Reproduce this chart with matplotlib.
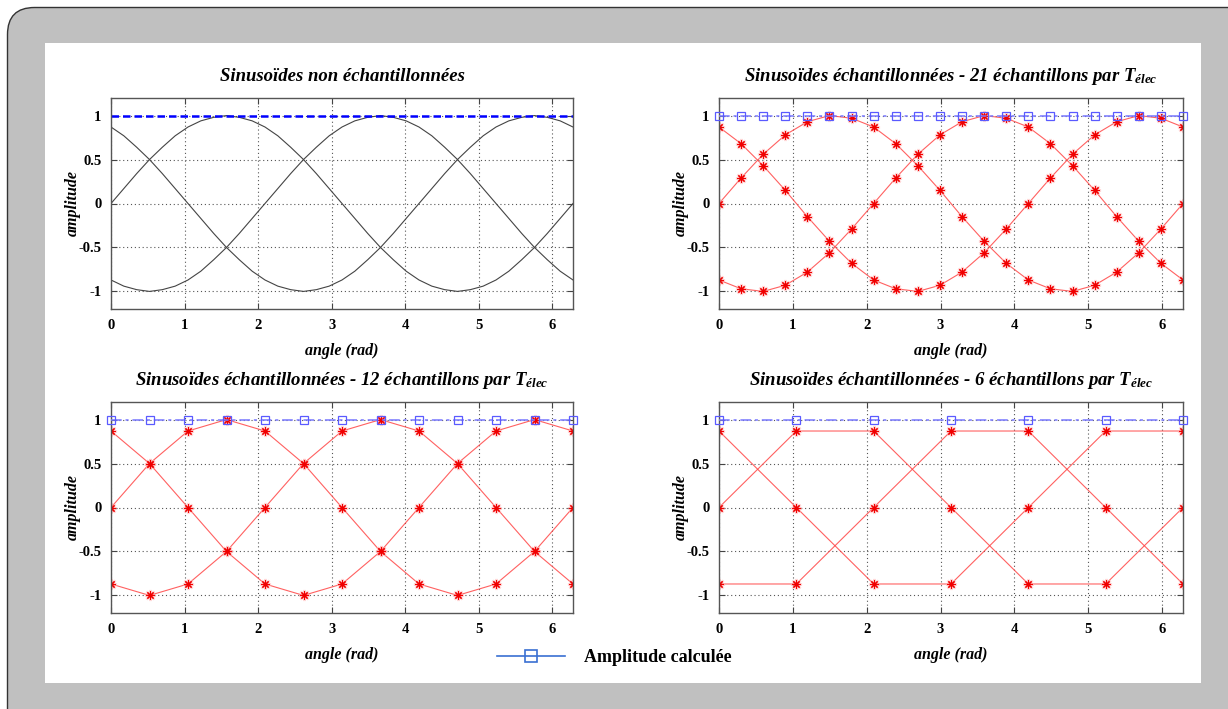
import numpy as np
import matplotlib
matplotlib.use("Agg")
import matplotlib.pyplot as plt
from matplotlib.patches import FancyBboxPatch, Rectangle
from matplotlib.lines import Line2D

# ---------------- data ----------------
# continuous sinusoids (10 degree steps over one electrical period 0..2pi)
fine_phase_a = [0, 0.17, 0.34, 0.5, 0.64, 0.77, 0.87, 0.94, 0.98, 1, 0.98, 0.94, 0.87, 0.77, 0.64,
                0.5, 0.34, 0.17, 0, -0.17, -0.34, -0.5, -0.64, -0.77, -0.87, -0.94, -0.98, -1,
                -0.98, -0.94, -0.87, -0.77, -0.64, -0.5, -0.34, -0.17, 0]
fine_phase_b = [-0.87, -0.94, -0.98, -1, -0.98, -0.94, -0.87, -0.77, -0.64, -0.5, -0.34, -0.17, 0,
                0.17, 0.34, 0.5, 0.64, 0.77, 0.87, 0.94, 0.98, 1, 0.98, 0.94, 0.87, 0.77, 0.64,
                0.5, 0.34, 0.17, 0, -0.17, -0.34, -0.5, -0.64, -0.77, -0.87]
fine_phase_c = [0.87, 0.77, 0.64, 0.5, 0.34, 0.17, 0, -0.17, -0.34, -0.5, -0.64, -0.77, -0.87,
                -0.94, -0.98, -1, -0.98, -0.94, -0.87, -0.77, -0.64, -0.5, -0.34, -0.17, 0, 0.17,
                0.34, 0.5, 0.64, 0.77, 0.87, 0.94, 0.98, 1, 0.98, 0.94, 0.87]
fine_amplitude = [1.0] * 37

# 21 samples per period
s21_a = [0, 0.29, 0.56, 0.78, 0.93, 1.0, 0.97, 0.87, 0.68, 0.43, 0.15, -0.15, -0.43, -0.68,
         -0.87, -0.97, -1.0, -0.93, -0.78, -0.56, -0.29, 0]
s21_b = [-0.87, -0.97, -1.0, -0.93, -0.78, -0.56, -0.29, 0, 0.29, 0.56, 0.78, 0.93, 1.0, 0.97,
         0.87, 0.68, 0.43, 0.15, -0.15, -0.43, -0.68, -0.87]
s21_c = [0.87, 0.68, 0.43, 0.15, -0.15, -0.43, -0.68, -0.87, -0.97, -1.0, -0.93, -0.78, -0.56,
         -0.29, 0, 0.29, 0.56, 0.78, 0.93, 1.0, 0.97, 0.87]
s21_amp = [1.0] * 22

# 12 samples per period
s12_a = [0, 0.5, 0.87, 1, 0.87, 0.5, 0, -0.5, -0.87, -1, -0.87, -0.5, 0]
s12_b = [-0.87, -1, -0.87, -0.5, 0, 0.5, 0.87, 1, 0.87, 0.5, 0, -0.5, -0.87]
s12_c = [0.87, 0.5, 0, -0.5, -0.87, -1, -0.87, -0.5, 0, 0.5, 0.87, 1, 0.87]
s12_amp = [1.0] * 13

# 6 samples per period
s6_a = [0, 0.87, 0.87, 0, -0.87, -0.87, 0]
s6_b = [-0.87, -0.87, 0, 0.87, 0.87, 0, -0.87]
s6_c = [0.87, 0, -0.87, -0.87, 0, 0.87, 0.87]
s6_amp = [1.0] * 7

titles = ["Sinusoïdes non échantillonnées",
          "Sinusoïdes échantillonnées - 21 échantillons par $T_{\\mathit{élec}}$",
          "Sinusoïdes échantillonnées - 12 échantillons par $T_{\\mathit{élec}}$",
          "Sinusoïdes échantillonnées - 6 échantillons par $T_{\\mathit{élec}}$"]
yticks = [-1, -0.5, 0, 0.5, 1]
yticklabels = ["-1", "-0.5", "0", "0.5", "1"]
xticks = [0, 1, 2, 3, 4, 5, 6]
xlabel = "angle (rad)"
ylabel = "amplitude"
legend_label = "Amplitude calculée"

# ---------------- style ----------------
plt.rcParams['mathtext.fontset'] = 'custom'
plt.rcParams['mathtext.it'] = 'Liberation Serif:italic:bold'
plt.rcParams['mathtext.rm'] = 'Liberation Serif:bold'
plt.rcParams['mathtext.bf'] = 'Liberation Serif:bold'

W, H = 1228, 709
fig = plt.figure(figsize=(W / 100, H / 100), dpi=100)
fig.patch.set_facecolor('white')

def px_rect(l, t, r, b):
    return [l / W, 1 - b / H, (r - l) / W, (b - t) / H]

# outer rounded gray frame
frame = FancyBboxPatch((7.5 / W, -40 / H), (W + 60) / W, (H - 7.5 + 40) / H,
                       boxstyle="round,pad=0,rounding_size=0.022",
                       transform=fig.transFigure, facecolor='#c0c0c0',
                       edgecolor='#333333', linewidth=1.0, mutation_aspect=W / H, zorder=-20)
fig.add_artist(frame)
inner = Rectangle((45 / W, 1 - 683 / H), (1201 - 45) / W, (683 - 43) / H,
                  transform=fig.transFigure, facecolor='white', edgecolor='none', zorder=-10)
fig.add_artist(inner)

serif = 'Liberation Serif'
rects = [(111, 98, 573, 309), (719, 98, 1183, 309),
         (111, 402, 573, 613), (719, 402, 1183, 613)]

red_line = dict(color='#ff4545', lw=0.8, alpha=0.85)
red_halo = dict(color='#ffb0b0', marker=(8, 2, 0), markersize=8, mew=1.8, linestyle='none',
                alpha=0.5)
red_mark = dict(color='#f00000', marker=(8, 2, 0), markersize=6, mew=0.8, linestyle='none')
blue_s = dict(color='#7878ff', lw=1.1, linestyle=(0, (7, 2.5, 2, 2.5)), marker='s',
              markersize=6, mfc='none', mec='#5a5aff', mew=0.9)

def style_axes(ax, title):
    ax.set_xlim(0, 2 * np.pi)
    ax.set_ylim(-1.2, 1.2)
    ax.set_xticks(xticks)
    ax.set_xticklabels([str(t) for t in xticks], fontfamily=serif, fontweight='bold', fontsize=10.5)
    ax.set_yticks(yticks)
    ax.set_yticklabels(yticklabels, fontfamily=serif, fontweight='bold', fontsize=10.5)
    ax.tick_params(direction='in', length=4, width=0.8, colors='#444444', top=True, right=True,
                   labelcolor='black', pad=7)
    ax.grid(True, linestyle=(0, (1, 2.5)), color='#555555', linewidth=0.8)
    for s in ax.spines.values():
        s.set_color('#555555')
        s.set_linewidth(1.0)
    ax.set_title(title, fontfamily=serif, fontstyle='italic', fontweight='bold', fontsize=13.5,
                 pad=12)
    ax.set_xlabel(xlabel, fontfamily=serif, fontstyle='italic', fontweight='bold', fontsize=11.5,
                  labelpad=8)
    ax.set_ylabel(ylabel, fontfamily=serif, fontstyle='italic', fontweight='bold', fontsize=11.5,
                  labelpad=-2)

# subplot 1: continuous
ax = fig.add_axes(px_rect(*rects[0]))
x_fine = np.linspace(0, 2 * np.pi, len(fine_phase_a))
for s in (fine_phase_a, fine_phase_b, fine_phase_c):
    ax.plot(x_fine, s, color='#444444', lw=0.8)
ax.plot(x_fine, fine_amplitude, color='#0000ff', lw=1.8, linestyle=(0, (3, 1.6)))
style_axes(ax, titles[0])

# sampled subplots
sampled = [(s21_a, s21_b, s21_c, s21_amp), (s12_a, s12_b, s12_c, s12_amp),
           (s6_a, s6_b, s6_c, s6_amp)]
for i, (a, b, c, amp) in enumerate(sampled):
    ax = fig.add_axes(px_rect(*rects[i + 1]))
    xs = np.linspace(0, 2 * np.pi, len(a))
    for s in (a, b, c):
        ax.plot(xs, s, **red_line)
        ax.plot(xs, s, **red_halo)
        ax.plot(xs, s, **red_mark)
    ax.plot(xs, amp, **blue_s, clip_on=False, zorder=3)
    style_axes(ax, titles[i + 1])

# legend
handle = Line2D([], [], color='#3a6fd2', lw=1.2, marker='s', markersize=9, mfc='none',
                mec='#3a6fd2', mew=1.2)
fig.legend([handle], [legend_label], loc='center', bbox_to_anchor=(0.5, 1 - 658 / H),
           frameon=False, handlelength=3.8, handletextpad=1.0,
           prop={'family': serif, 'weight': 'bold', 'size': 13})

fig.savefig('out.png', dpi=100, facecolor=fig.get_facecolor())
